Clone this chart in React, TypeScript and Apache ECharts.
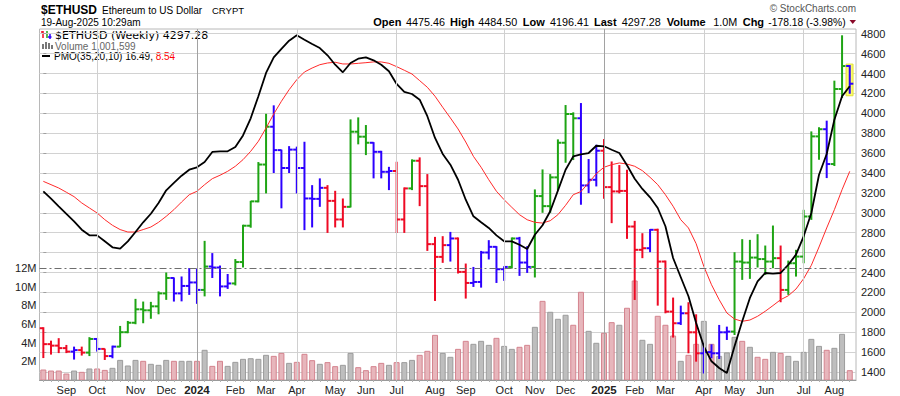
import React, { useEffect, useRef } from "react";
import * as echarts from "echarts";

// ---------- DATA ----------
const opens = [1840,1680,1665,1640,1605,1620,1595,1732,1632,1560,
 1655,1800,1895,2030,2020,2060,2190,2345,2190,2265,
 2300,2225,2460,2450,2260,2290,2505,2870,3115,3485,
 3865,3630,3450,3635,3450,3144,3140,3251,3120,2933,
 3060,3815,3765,3704,3613,3412,3420,2933,3245,3523,
 3268,2685,2557,2675,2742,2406,2295,2305,2601,2658,
 2433,2456,2742,2500,2456,3168,3067,3356,3704,3993,
 3950,3275,3332,3624,3258,3215,3220,2862,2628,2644,
 2829,2510,2007,1890,1990,1799,1588,1600,1588,1799,
 1806,2510,2500,2550,2535,2510,2544,2225,2493,2560,
 2963,3768,3840,3490,4244,4475.46];
const highs = [1850,1715,1740,1672,1655,1655,1750,1740,1635,1665,
 1863,1913,2135,2108,2105,2210,2400,2350,2360,2445,
 2440,2718,2595,2470,2385,2535,2880,3120,3510,3995,
 4080,3635,3670,3665,3714,3278,3346,3278,3221,3144,
 3939,3959,3882,3710,3623,3462,3513,3255,3537,3557,
 3389,2758,2765,2808,2752,2490,2456,2617,2725,2665,
 2463,2752,2758,2665,3235,3436,3389,3738,4083,4010,
 4103,3540,3684,3741,3516,3480,3433,2919,2795,2836,
 2840,2520,2148,2067,2101,1980,1688,1678,1873,1856,
 2604,2735,2728,2785,2671,2872,2671,2520,2628,3030,
 3818,3860,3926,4328,4784,4484.5];
const lows = [1540,1575,1590,1590,1525,1565,1560,1605,1521,1538,
 1650,1790,1880,1890,1935,1980,2125,2108,2110,2175,
 2085,2160,2345,2160,2235,2270,2450,2850,3105,3195,
 3400,3045,3400,3195,2826,2853,3060,2798,2853,2853,
 3054,3688,3580,3346,3346,3228,2798,2798,3228,3067,
 2617,2114,2497,2510,2390,2138,2255,2248,2531,2295,
 2316,2440,2366,2396,2350,3000,3000,3228,3503,3530,
 3081,3198,3265,3141,2896,3195,2738,2124,2544,2604,
 2067,1990,1746,1873,1588,1504,1385,1538,1531,1722,
 1772,2326,2336,2450,2376,2443,2101,2175,2359,2493,
 2929,3533,3349,3470,4154,4196.41];
const closes = [1680,1665,1640,1605,1620,1595,1732,1632,1560,1655,
 1800,1895,2030,2020,2060,2190,2345,2190,2265,2300,
 2225,2460,2450,2260,2290,2505,2870,3115,3485,3865,
 3630,3450,3635,3450,3144,3140,3251,3120,2933,3060,
 3815,3765,3704,3613,3412,3420,2933,3245,3523,3268,
 2685,2557,2675,2742,2406,2295,2305,2601,2658,2433,
 2456,2742,2500,2456,3168,3067,3356,3704,3993,3950,
 3275,3332,3624,3258,3215,3220,2862,2628,2644,2829,
 2510,2007,1890,1990,1799,1588,1600,1588,1799,1806,
 2510,2500,2550,2535,2510,2544,2225,2493,2560,2963,
 3768,3840,3490,4244,4475,4297.28];
// Elder-impulse style bar colour: g = green, b = blue, r = red
const impulse = ("rrrrbrgbrb" + "gggggggbbb" + "bgbbbggggg" + "bbbbbbbrrr" + "gggbbbrrgr" +
  "rrrbrrbbbb" + "bgbbgggggg" + "bbbrrrrrrb" + "rrrbrrbbbb" + "ggggggrggg" + "ggbggb").split("");
// weekly volume, millions
const volumeM = [1.07,0.96,0.96,0.64,0.96,0.82,1.18,1.18,1.03,1.25,
 2.1,1.5,2.1,2.0,1.68,1.57,2.1,2.0,2.0,2.0,
 2.0,3.18,1.46,2.0,1.46,1.89,2.21,2.28,2.21,2.64,
 2.53,2.85,1.78,1.89,2.75,2.07,1.68,1.86,1.43,1.57,
 2.85,1.32,1.0,1.43,1.78,1.57,1.86,1.86,2.1,2.64,
 3.07,4.78,2.85,2.43,3.28,4.14,3.82,4.14,3.71,4.46,
 3.6,3.28,3.5,3.71,5.64,8.42,7.25,6.5,6.93,5.86,
 9.39,5.21,3.93,5.0,6.14,5.86,7.68,10.6,4.25,3.82,
 6.82,5.86,4.71,2.0,2.64,3.82,6.28,3.82,2.53,2.9,
 4.57,4.14,3.5,2.43,2.21,2.96,2.85,2.53,2.0,2.96,
 4.35,3.6,3.18,3.39,4.89,1.0];
const pmo = [6.67,5.98,5.26,4.55,3.86,3.08,2.55,2.55,1.99,1.43,
 1.3,1.99,2.86,3.77,4.57,5.58,6.76,7.45,8.13,8.69,
 8.91,9.41,10.35,10.41,10.41,10.81,11.9,13.5,15.56,17.74,
 19.2,20.0,20.76,21.26,20.85,20.45,20.07,19.39,18.51,17.8,
 18.67,19.07,19.2,18.92,18.51,17.9,16.71,15.96,15.77,15.24,
 13.69,11.66,10.16,9.16,7.75,5.88,4.33,3.77,3.24,2.55,
 1.99,1.99,1.67,1.27,2.61,3.49,4.8,6.73,8.69,9.94,
 10.13,10.25,10.93,10.88,10.56,10.25,9.1,7.85,6.89,6.11,
 5.11,3.4,0.43,-1.37,-3.15,-5.65,-7.83,-9.23,-9.86,-10.33,
 -7.83,-5.49,-3.31,-1.75,-0.97,-1.03,-0.97,-0.2,0.75,2.46,
 4.64,8.22,10.16,13.37,15.56,16.49];
const pmoSignal = [7.6,7.29,6.98,6.58,6.17,5.58,5.11,4.64,4.02,3.49,
 3.09,2.86,2.86,3.09,3.33,3.77,4.33,4.95,5.67,6.35,
 6.67,7.29,7.85,8.17,8.54,9.01,9.63,10.41,11.35,12.59,
 13.9,15.09,16.17,17.11,17.83,18.2,18.51,18.67,18.74,18.58,
 18.58,18.64,18.7,18.77,18.77,18.64,18.33,17.99,17.64,17.02,
 16.4,15.56,14.53,13.53,12.5,11.28,9.94,8.92,7.75,6.67,
 5.88,5.17,4.48,4.01,3.77,3.7,3.92,4.48,5.36,6.35,
 6.65,7.45,8.32,8.92,9.16,9.32,9.22,9.01,8.6,7.98,
 7.29,6.35,5.27,4.01,3.24,1.77,-0.35,-2.07,-3.47,-4.71,
 -5.28,-5.49,-5.37,-5.02,-4.55,-4.02,-3.47,-3.1,-2.47,-1.5,
 -0.25,1.46,3.24,4.95,6.82,8.54];
// month labels: index of first weekly bar in the month
const monthIdx = [3,7,12,16,20,25,29,33,38,42,46,51,55,60,64,68,73,77,81,86,90,94,99,103];
const monthNames = ["Sep","Oct","Nov","Dec","2024","Feb","Mar","Apr","May","Jun","Jul","Aug",
  "Sep","Oct","Nov","Dec","2025","Feb","Mar","Apr","May","Jun","Jul","Aug"];
const quarterIdx = [7,20,33,46,60,73,86,99];
const yearIdx = [20,73];
const volumeRefLine = 12; // M

// ---------- STYLE ----------
const FONT = '"Liberation Sans", Arial, Helvetica, sans-serif';
const BAR_CLR: Record<string, string> = { g: "#1ea414", b: "#2c00ff", r: "#ee0a24" };
const N = closes.length;
const X_MAX = -0.5 + 816.5 / 7.68;

function txt(text: string, x: number, y: number, opts: any = {}) {
  return {
    type: "text", x, y, silent: true,
    style: { text, fill: "#111", fontSize: 11, fontFamily: FONT, verticalAlign: "middle", align: "left", ...opts },
  };
}

function buildOption(): any {
  const priceData = closes.map((c, i) => [i, opens[i], highs[i], lows[i], c]);
  const volData = volumeM.map((v, i) => [i, v]);

  const graphic: any[] = [
    txt("$ETHUSD", 41, 9.5, { fontSize: 12, fontWeight: "bold", fill: "#000" }),
    txt("Ethereum to US Dollar", 102, 10, { fontSize: 10, fill: "#000" }),
    txt("CRYPT", 212, 10.5, { fontSize: 9.5, fill: "#000" }),
    txt("19-Aug-2025 10:29am", 41, 22.5, { fontSize: 10, fill: "#000" }),
    txt("© StockCharts.com", 856, 8.7, { fontSize: 10, fill: "#555", align: "right" }),
    txt("Open", 373.3, 22, { fontWeight: "bold", fill: "#000" }),
    txt("4475.46", 406, 22.3, { fontSize: 10.8, fill: "#000" }),
    txt("High", 450, 22, { fontWeight: "bold", fill: "#000" }),
    txt("4484.50", 478.3, 22.3, { fontSize: 10.8, fill: "#000" }),
    txt("Low", 522.7, 22, { fontWeight: "bold", fill: "#000" }),
    txt("4196.41", 550, 22.3, { fontSize: 10.8, fill: "#000" }),
    txt("Last", 594, 22, { fontWeight: "bold", fill: "#000" }),
    txt("4297.28", 621.7, 22.3, { fontSize: 10.8, fill: "#000" }),
    txt("Volume", 666.7, 22, { fontWeight: "bold", fill: "#000" }),
    txt("1.0M", 713.3, 22.3, { fontSize: 10.8, fill: "#000" }),
    txt("Chg", 742.7, 22, { fontWeight: "bold", fill: "#000" }),
    txt("-178.18 (-3.98%)", 768.3, 22.3, { fontSize: 10.3, fill: "#000" }),
    { type: "polygon", silent: true, shape: { points: [[849.5, 20], [856, 20], [852.75, 24]] }, style: { fill: "#8a0a2a" } },
    // legend inside plot
    { type: "line", silent: true, shape: { x1: 43, y1: 31, x2: 43, y2: 38 }, style: { stroke: "#ee0a24", lineWidth: 1.5 } },
    { type: "line", silent: true, shape: { x1: 41, y1: 32, x2: 43, y2: 32 }, style: { stroke: "#ee0a24", lineWidth: 1.5 } },
    { type: "line", silent: true, shape: { x1: 47, y1: 31, x2: 47, y2: 38 }, style: { stroke: "#1ea414", lineWidth: 1.5 } },
    { type: "line", silent: true, shape: { x1: 50, y1: 33, x2: 50, y2: 39 }, style: { stroke: "#2c00ff", lineWidth: 1.5 } },
    { type: "line", silent: true, shape: { x1: 48, y1: 37, x2: 51.5, y2: 37 }, style: { stroke: "#2c00ff", lineWidth: 1.5 } },
    txt("$ETHUSD (Weekly) 4297.28", 55, 35.5, { fontFamily: '"DejaVu Sans", Verdana, sans-serif', fontSize: 11, fill: "#000" }),
    { type: "rect", silent: true, shape: { x: 42, y: 44, width: 2, height: 5 }, style: { fill: "#777" } },
    { type: "rect", silent: true, shape: { x: 45, y: 42, width: 2, height: 7 }, style: { fill: "#777" } },
    { type: "rect", silent: true, shape: { x: 48, y: 43, width: 2, height: 6 }, style: { fill: "#777" } },
    { type: "rect", silent: true, shape: { x: 51, y: 45, width: 2, height: 4 }, style: { fill: "#777" } },
    txt("Volume 1,001,599", 55, 46, { fontSize: 10, fill: "#666" }),
    { type: "line", silent: true, shape: { x1: 42, y1: 56, x2: 50, y2: 56 }, style: { stroke: "#000", lineWidth: 2 } },
    {
      type: "text", x: 54, y: 56.5, silent: true,
      style: {
        text: "{k|PMO(35,20,10) 16.49, }{r|8.54}", verticalAlign: "middle", fontFamily: FONT, fontSize: 10,
        rich: { k: { fill: "#000", fontSize: 10, fontFamily: FONT }, r: { fill: "#f00", fontSize: 10, fontFamily: FONT } },
      },
    },
  ];

  return {
    animation: false,
    backgroundColor: "#ffffff",
    textStyle: { fontFamily: FONT },
    grid: [
      { left: 39.5, right: 44, top: 33.7, bottom: 24, outerBoundsMode: "none" },
      { left: 39.5, right: 44, top: 29, bottom: 16, show: true, borderColor: "#b8b8b8", borderWidth: 1, backgroundColor: "transparent", outerBoundsMode: "none" },
    ],
    xAxis: [
      { gridIndex: 0, type: "value", min: -0.5, max: X_MAX, show: false },
      {
        gridIndex: 1, type: "value", min: -0.5, max: X_MAX,
        axisLine: { show: true, lineStyle: { color: "#9a9a9a", width: 1 } },
        axisTick: { show: true, length: 2, customValues: closes.map((_, i) => i), lineStyle: { color: "#b0b0b0" } },
        splitLine: { show: false },
        axisLabel: {
          customValues: monthIdx,
          margin: 4, fontSize: 11, color: "#222", fontFamily: FONT,
          formatter: (v: number) => {
            const k = monthIdx.indexOf(Math.round(v));
            if (k < 0 || Math.abs(v - Math.round(v)) > 1e-6) return "";
            const s = monthNames[k];
            return /^\d{4}$/.test(s) ? `{y|${s}}` : s;
          },
          rich: { y: { fontWeight: "bold", fontSize: 11.5, color: "#222", fontFamily: FONT } },
        },
      },
    ],
    yAxis: [
      {
        gridIndex: 0, type: "value", position: "right", min: 1400, max: 4800, interval: 200,
        axisLine: { show: false },
        axisTick: { show: true, length: 3, lineStyle: { color: "#a0a0a0" } },
        axisLabel: { margin: 5, fontSize: 11, color: "#222", fontFamily: FONT, formatter: (v: number) => String(Math.round(v)) },
        splitLine: { show: true, lineStyle: { color: "#d2d2d2", width: 1 } },
      },
      {
        gridIndex: 1, type: "value", position: "left", min: 0, max: (380 - 29) / 9.34, interval: 2,
        axisLine: { show: false }, axisTick: { show: false }, splitLine: { show: false },
        axisLabel: {
          margin: 3, fontSize: 11, color: "#222", fontFamily: FONT, showMaxLabel: false,
          formatter: (v: number) => (v > 0 && v <= 12.001 ? `${Math.round(v)}M` : ""),
        },
      },
      { gridIndex: 1, type: "value", min: -10.98, max: 21.85, show: false },
    ],
    series: [
      {
        type: "line", xAxisIndex: 1, yAxisIndex: 1, data: [[-5, -5]], silent: true, z: 0,
        showSymbol: false, lineStyle: { opacity: 0 },
        markLine: {
          silent: true, symbol: ["none", "none"], label: { show: false }, animation: false,
          data: [
            ...quarterIdx.map((q) => ({
              xAxis: q,
              lineStyle: { color: yearIdx.includes(q) ? "#a2a2a2" : "#d0d0d0", width: 1, type: "solid" },
            })),
            { yAxis: volumeRefLine, lineStyle: { color: "#6e6e6e", width: 1, type: [7, 3, 2, 3] } },
          ],
        },
      },
      {
        type: "custom", name: "Volume", xAxisIndex: 1, yAxisIndex: 1, z: 1, clip: true,
        data: volData, encode: { x: 0, y: 1 },
        renderItem: (params: any, api: any) => {
          const i = api.value(0);
          const v = api.value(1);
          const top = api.coord([i, v]);
          const base = api.coord([i, 0]);
          const down = i === 0 ? true : closes[i] < closes[i - 1];
          return {
            type: "rect",
            shape: { x: top[0] - 2.5, y: top[1], width: 5, height: base[1] - top[1] },
            style: { fill: down ? "#e7b6bc" : "#bebebe", stroke: down ? "#d4838e" : "#9c9c9c", lineWidth: 1 },
          };
        },
      },
      {
        type: "custom", name: "$ETHUSD", xAxisIndex: 0, yAxisIndex: 0, z: 2, clip: false,
        data: priceData, encode: { x: 0, y: [1, 2, 3, 4] },
        renderItem: (params: any, api: any) => {
          const i = api.value(0);
          const po = api.coord([i, api.value(1)]);
          const ph = api.coord([i, api.value(2)]);
          const pl = api.coord([i, api.value(3)]);
          const pc = api.coord([i, api.value(4)]);
          const x = po[0];
          const color = BAR_CLR[impulse[i]];
          const children: any[] = [];
          if (i === N - 1) {
            children.push({
              type: "rect",
              shape: { x: x - 3.7, y: ph[1] - 1, width: 7, height: pl[1] - ph[1] + 3 },
              style: { fill: "#fbfb6e", stroke: "#e2e23a", lineWidth: 1 },
            });
          }
          children.push({ type: "line", shape: { x1: x, y1: ph[1], x2: x, y2: pl[1] }, style: { stroke: color, lineWidth: 2 } });
          children.push({ type: "line", shape: { x1: x - 3.6, y1: po[1], x2: x, y2: po[1] }, style: { stroke: color, lineWidth: 2 } });
          children.push({ type: "line", shape: { x1: x, y1: pc[1], x2: x + 3.6, y2: pc[1] }, style: { stroke: color, lineWidth: 2 } });
          return { type: "group", children };
        },
      },
      {
        type: "line", name: "Signal", xAxisIndex: 1, yAxisIndex: 2, z: 3,
        data: pmoSignal.map((v, i) => [i, v]), showSymbol: false, symbol: "none",
        lineStyle: { color: "#ff2a2a", width: 1 }, silent: true,
      },
      {
        type: "line", name: "PMO", xAxisIndex: 1, yAxisIndex: 2, z: 4,
        data: pmo.map((v, i) => [i, v]), showSymbol: false, symbol: "none",
        lineStyle: { color: "#000000", width: 1.8 }, silent: true,
      },
    ],
    graphic,
  };
}

export default function App() {
  const ref = useRef<HTMLDivElement>(null);
  useEffect(() => {
    if (!ref.current) return;
    const chart = echarts.init(ref.current, undefined, { renderer: "svg" });
    chart.setOption(buildOption());
    return () => chart.dispose();
  }, []);
  return (
    <div
      ref={ref}
      style={{ position: "fixed", left: 0, top: 0, width: 900, height: 396, background: "#fff" }}
    />
  );
}
